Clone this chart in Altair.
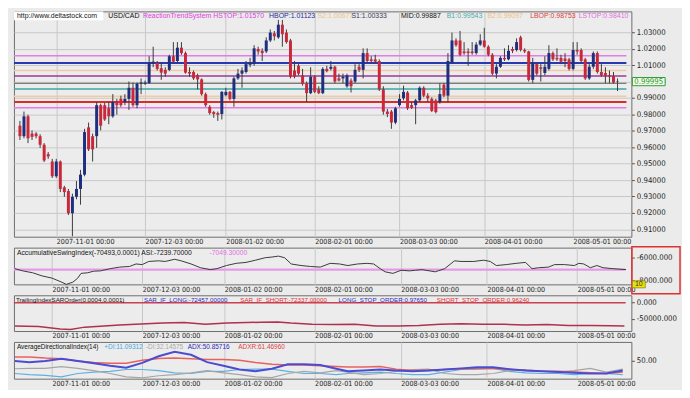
import json
import altair as alt
import pandas as pd

# ---------------- data ----------------
opens = [0.9731, 0.9667, 0.9788, 0.9683, 0.9683, 0.9667, 0.9615, 0.9558, 0.9513, 0.9423,
         0.9513, 0.9356, 0.9333, 0.9198, 0.9298, 0.9346, 0.9433, 0.9721, 0.9667, 0.9667,
         0.9856, 0.9856, 0.9837, 0.9788, 0.9875, 0.9894, 0.9875, 0.9894, 0.9962, 0.9856,
         0.9987, 0.9987, 0.9990, 1.0110, 1.0115, 1.0081, 1.0071, 1.0071, 1.0154, 1.0125,
         1.0206, 1.0173, 1.0058, 1.0058, 1.0038, 1.0013, 0.9923, 0.9846, 0.9814, 0.9808,
         0.9802, 0.9917, 0.9937, 0.9894, 1.0019, 1.0048, 1.0058, 1.0102, 1.0106, 1.0198,
         1.0187, 1.0183, 1.0250, 1.0294, 1.0269, 1.0346, 1.0298, 1.0250, 1.0067, 1.0096,
         1.0038, 0.9987, 0.9929, 1.0029, 0.9952, 0.9929, 1.0077, 1.0077, 1.0090, 1.0019,
         1.0019, 0.9971, 1.0006, 1.0000, 1.0090, 1.0071, 1.0173, 1.0135, 1.0135, 1.0125,
         0.9952, 0.9817, 0.9817, 0.9750, 0.9856, 0.9898, 0.9933, 0.9856, 0.9856, 0.9885,
         0.9962, 0.9914, 0.9894, 0.9885, 0.9875, 0.9981, 0.9914, 1.0115, 1.0250, 1.0250,
         1.0183, 1.0183, 1.0183, 1.0173, 1.0225, 1.0250, 1.0212, 1.0163, 1.0048, 1.0090,
         1.0144, 1.0135, 1.0198, 1.0192, 1.0269, 1.0192, 1.0183, 1.0010, 1.0106, 1.0087,
         1.0052, 1.0077, 1.0173, 1.0144, 1.0144, 1.0140, 1.0135, 1.0077, 1.0192, 1.0192,
         1.0135, 1.0019, 1.0090, 1.0173, 1.0058, 1.0052, 1.0038, 1.0033, 0.9997]
closes = [0.9667, 0.9788, 0.9654, 0.9663, 0.9667, 0.9615, 0.9519, 0.9544, 0.9423, 0.9513,
          0.9346, 0.9327, 0.9198, 0.9298, 0.9346, 0.9433, 0.9692, 0.9587, 0.9587, 0.9856,
          0.9731, 0.9769, 0.9788, 0.9875, 0.9856, 0.9856, 0.9894, 0.9962, 0.9856, 0.9987,
          0.9994, 0.9994, 1.0115, 1.0121, 1.0077, 1.0054, 1.0048, 1.0154, 1.0121, 1.0206,
          1.0173, 1.0054, 1.0048, 1.0019, 1.0013, 0.9923, 0.9856, 0.9808, 0.9802, 0.9798,
          0.9937, 0.9937, 0.9894, 1.0019, 1.0048, 1.0067, 1.0106, 1.0115, 1.0202, 1.0183,
          1.0173, 1.0250, 1.0298, 1.0275, 1.0346, 1.0288, 1.0240, 1.0029, 1.0029, 1.0048,
          0.9987, 0.9929, 1.0029, 0.9937, 0.9929, 1.0077, 1.0063, 1.0090, 1.0000, 1.0006,
          1.0029, 1.0038, 0.9971, 1.0071, 1.0071, 1.0173, 1.0125, 1.0125, 1.0121, 0.9952,
          0.9817, 0.9802, 0.9750, 0.9837, 0.9894, 0.9937, 0.9837, 0.9840, 0.9885, 0.9962,
          0.9914, 0.9898, 0.9821, 0.9814, 0.9923, 0.9914, 1.0125, 1.0250, 1.0221, 1.0163,
          1.0173, 1.0173, 1.0173, 1.0225, 1.0250, 1.0212, 1.0163, 1.0048, 1.0090, 1.0144,
          1.0135, 1.0187, 1.0187, 1.0240, 1.0192, 1.0183, 1.0010, 1.0115, 1.0048, 1.0077,
          1.0090, 1.0173, 1.0135, 1.0135, 1.0121, 1.0125, 1.0077, 1.0192, 1.0183, 1.0125,
          1.0019, 1.0090, 1.0173, 1.0058, 1.0038, 1.0033, 1.0029, 0.9994, 0.99995]
highs = [0.9760, 0.9817, 0.9798, 0.9702, 0.9692, 0.9679, 0.9625, 0.9571, 0.9529, 0.9529,
         0.9519, 0.9365, 0.9346, 0.9317, 0.9394, 0.9462, 0.9712, 0.9750, 0.9683, 0.9875,
         0.9865, 0.9871, 0.9875, 0.9923, 0.9894, 0.9914, 0.9923, 1.0000, 0.9994, 0.9994,
         1.0019, 1.0006, 1.0154, 1.0212, 1.0125, 1.0115, 1.0087, 1.0163, 1.0240, 1.0240,
         1.0240, 1.0183, 1.0087, 1.0067, 1.0048, 1.0019, 0.9933, 0.9856, 0.9821, 0.9817,
         0.9942, 0.9962, 0.9942, 1.0029, 1.0077, 1.0087, 1.0125, 1.0144, 1.0221, 1.0212,
         1.0202, 1.0269, 1.0317, 1.0308, 1.0375, 1.0375, 1.0317, 1.0260, 1.0125, 1.0106,
         1.0077, 1.0000, 1.0087, 1.0038, 0.9971, 1.0087, 1.0096, 1.0125, 1.0096, 1.0048,
         1.0048, 1.0048, 1.0019, 1.0106, 1.0106, 1.0202, 1.0202, 1.0154, 1.0163, 1.0135,
         0.9971, 0.9833, 0.9827, 0.9846, 0.9923, 0.9975, 0.9942, 0.9875, 0.9894, 0.9971,
         0.9971, 0.9929, 0.9904, 0.9894, 0.9990, 0.9990, 1.0173, 1.0298, 1.0263, 1.0308,
         1.0240, 1.0202, 1.0240, 1.0240, 1.0288, 1.0327, 1.0221, 1.0173, 1.0106, 1.0154,
         1.0202, 1.0221, 1.0212, 1.0263, 1.0279, 1.0202, 1.0187, 1.0144, 1.0115, 1.0106,
         1.0154, 1.0221, 1.0183, 1.0202, 1.0163, 1.0173, 1.0144, 1.0240, 1.0240, 1.0202,
         1.0144, 1.0106, 1.0183, 1.0183, 1.0106, 1.0087, 1.0067, 1.0058, 1.0019]
lows = [0.9644, 0.9654, 0.9625, 0.9644, 0.9654, 0.9596, 0.9510, 0.9529, 0.9413, 0.9413,
        0.9327, 0.9298, 0.9187, 0.9058, 0.9283, 0.9250, 0.9423, 0.9577, 0.9513, 0.9596,
        0.9702, 0.9760, 0.9740, 0.9779, 0.9798, 0.9846, 0.9856, 0.9827, 0.9846, 0.9837,
        0.9923, 0.9979, 0.9987, 1.0087, 1.0067, 1.0010, 1.0029, 1.0063, 1.0110, 1.0115,
        1.0163, 1.0048, 1.0029, 1.0010, 0.9952, 0.9914, 0.9846, 0.9798, 0.9779, 0.9760,
        0.9769, 0.9910, 0.9885, 0.9846, 1.0010, 0.9962, 1.0048, 1.0087, 1.0096, 1.0163,
        1.0125, 1.0173, 1.0240, 1.0250, 1.0260, 1.0212, 1.0231, 1.0019, 1.0019, 1.0038,
        0.9975, 0.9875, 0.9923, 0.9929, 0.9923, 0.9923, 1.0056, 1.0067, 0.9990, 1.0000,
        0.9990, 0.9962, 0.9933, 0.9990, 1.0058, 1.0019, 1.0115, 1.0115, 1.0110, 0.9942,
        0.9798, 0.9783, 0.9712, 0.9740, 0.9846, 0.9885, 0.9827, 0.9833, 0.9740, 0.9875,
        0.9904, 0.9875, 0.9814, 0.9806, 0.9865, 0.9904, 0.9875, 1.0106, 1.0212, 1.0154,
        1.0163, 1.0096, 1.0163, 1.0163, 1.0217, 1.0206, 1.0154, 1.0038, 1.0019, 1.0083,
        1.0125, 1.0129, 1.0173, 1.0183, 1.0183, 1.0173, 1.0000, 0.9990, 1.0038, 1.0000,
        1.0038, 1.0067, 1.0125, 1.0125, 1.0106, 1.0087, 1.0067, 1.0067, 1.0163, 1.0115,
        1.0010, 1.0010, 1.0077, 1.0048, 1.0029, 0.9990, 0.9990, 0.9987, 0.9942]

date_label_bars = [9, 31, 51, 73, 94, 115, 137]
date_labels = ["2007-11-01 00:00", "2007-12-03 00:00", "2008-01-02 00:00", "2008-02-01 00:00",
               "2008-03-03 00:00", "2008-04-01 00:00", "2008-05-01 00:00"]
price_ticks = [0.91, 0.92, 0.93, 0.94, 0.95, 0.96, 0.97, 0.98, 0.99, 1.00, 1.01, 1.02, 1.03]

level_names = ["HSTOP", "HBOP", "S2", "S1", "MID", "B1", "B2", "LBOP", "LSTOP"]
level_values = [1.01570, 1.01123, 1.00677, 1.00333, 0.99887, 0.99543, 0.99097, 0.98753, 0.98410]

asi_bar = [0, 1.9, 4.3, 6.6, 9.0, 11.4, 12.5, 14.1, 15.3, 16.1, 17.7, 19.2, 20.8, 23.2, 25.5,
           27.9, 29.5, 31.0, 32.6, 35.0, 36.6, 38.9, 40.5, 42.9, 45.2, 47.6, 49.2, 51.5, 53.9,
           56.3, 58.6, 61.0, 62.6, 64.2, 65.7, 67.3, 69.7, 72.0, 74.4, 76.8, 79.1, 81.1,
           83.5, 85.8, 87.4, 89.0, 90.2, 92.1, 94.1, 96.1, 97.6, 99.2, 102.4, 104.7, 107.1,
           108.7, 111.8, 114.2, 115.8, 117.3, 119.7, 122.1, 124.4, 126.0, 127.6, 130.0, 131.5,
           133.9, 136.3, 137.4, 138.6, 140.2, 141.8, 143.3, 145.7, 148.9]
asi_val = [-6969, -7156, -7316, -7582, -7769, -8116, -8302, -8116, -7769, -7369, -7316, -7182,
           -7156, -6969, -6836, -6782, -6569, -6622, -6356, -6302, -6356, -6169, -6302, -6569,
           -6889, -7049, -6969, -6702, -6516, -6436, -6249, -6036, -5982, -5902, -6036, -6569,
           -6702, -6782, -6836, -6516, -6569, -6702,
           -6569, -6516, -6569, -6969, -7236, -7369, -7102, -7156, -7102, -7049, -7236, -6969,
           -6302, -6356, -6356, -6249, -6356, -6702, -6622, -6516, -6436, -6969, -6889, -6836,
           -6622, -6622, -6702, -6516, -6569, -6889, -6702, -6889, -6969, -7049]
asi_signal = [-7049.3]

ti_bar = [0, 5.8, 11.0, 13.5, 17.0, 25.5, 35.9, 41.2, 46.4, 51.6, 59.9, 64.0, 67.2, 72.4, 77.6,
          82.8, 88.0, 93.2, 98.4, 103.6, 108.8, 114.0, 119.2, 124.4, 129.6, 134.8, 140.0,
          145.2, 148.5]
ti_val = [-72400, -74200, -81400, -83100, -76000, -69700, -63500, -61700, -67100, -63500,
          -60800, -59900, -63500, -67100, -67900, -67100, -72400, -72400, -70600, -67100,
          -65300, -67100, -67100, -69700, -67900, -70600, -70600, -71500, -72400]
stop_orders = [0.97650, 0.96240]

adx_bar = [0, 3.5, 7.4, 11.3, 15.3, 19.2, 23.2, 27.1, 31.0, 35.0, 38.9, 42.9, 46.8, 50.8,
           54.7, 58.6, 62.6, 66.5, 70.4, 74.4, 78.3, 81.1, 85.0, 89.0, 92.9, 96.9, 100.8,
           104.7, 108.7, 112.6, 116.5, 120.5, 124.4, 128.4, 132.3, 136.2, 140.2, 144.1, 148.1]
adxr_val = [59, 59, 56, 54, 48, 44, 42, 42, 50, 55, 56, 54, 52, 52, 50, 44, 39, 37, 37, 35, 33,
            32, 32, 33, 26, 22, 22, 25, 26, 28, 28, 25, 22, 20, 20, 18, 16, 14, 18]
adx_val = [48, 45, 48, 54, 48, 42, 35, 30, 43, 61, 73, 65, 45, 35, 25, 20, 27, 39, 39, 37, 27,
           20, 22, 25, 22, 20, 22, 25, 28, 31, 31, 26, 22, 20, 18, 16, 14, 14, 22]
mdi_val = [27, 28, 28, 33, 28, 22, 14, 5, 2, 8, 11, 16, 22, 16, 11, 5, 3, 14, 20, 16, 22,
           18, 11, 14, 20, 25, 26, 14, 11, 11, 14, 22, 25, 20, 18, 22, 28, 18, 26]
pdi_val = [14, 11, 9, 5, 14, 18, 20, 25, 25, 22, 16, 14, 20, 20, 25, 26, 26, 20, 14, 14, 11,
           14, 16, 18, 14, 11, 11, 18, 25, 26, 28, 20, 16, 14, 14, 11, 14, 14, 11]

# ---------------- styling ----------------
W = 622
H_MAIN, H_ASI, H_TI, H_ADX = 227, 37, 36, 37
XDOM = [-0.25, 150.2]
NARROW = "Liberation Sans Narrow, Arial Narrow, DejaVu Sans Condensed, sans-serif"
HEAD = "Liberation Sans, Arial, sans-serif"
GRID = "#c8c8c8"
BG = "#ebebeb"
BULL = "#1f2f7f"
BEAR = "#c9283a"
level_colors = ["#e27de6", "#2b38b0", "#f2caa0", "#9b3a9c", "#7c7c7c", "#3aa8a5", "#f2caa0", "#e02a2a", "#e27de6"]
level_widths = [1.5, 2, 1.5, 1.5, 1.5, 1.5, 1.5, 2, 1.5]

label_expr = f"{json.dumps(date_labels)}[indexof({json.dumps(date_label_bars)}, datum.value)]"

x_axis = alt.Axis(values=date_label_bars, labelExpr=label_expr, grid=True, gridColor=GRID,
                  ticks=False, domain=False, labelAlign="left", labelBaseline="top",
                  labelPadding=1, labelFont=NARROW, labelFontSize=7.2, labelColor="#222",
                  labelFlush=False, labelOverlap=False, title=None)
x_scale = alt.Scale(domain=XDOM, nice=False, zero=False)


def xenc(field="i"):
    return alt.X(f"{field}:Q", scale=x_scale, axis=x_axis)


def yaxis(values, fmt, grid):
    return alt.Axis(orient="right", values=values,
                    labelExpr=f"replace(format(datum.value, '{fmt}'), '\u2212', '-')",
                    grid=grid, gridColor=GRID, domain=False, tickSize=3, tickColor="#555",
                    labelPadding=2, labelFont=NARROW, labelFontSize=7.8, labelColor="#222",
                    title=None)


def txt(text, color, x, y=5, size=7, font=HEAD, align="left"):
    return alt.Chart(pd.DataFrame({"t": [text]})).mark_text(
        align=align, baseline="middle", color=color, font=font, fontSize=size
    ).encode(x=alt.value(x), y=alt.value(y), text="t:N")


def box(x, x2, y, y2, **kw):
    return alt.Chart(pd.DataFrame({"a": [0]})).mark_rect(**kw).encode(
        x=alt.value(x), x2=alt.value(x2), y=alt.value(y), y2=alt.value(y2))


# ---------------- main panel ----------------
y_main_scale = alt.Scale(domain=[0.9055, 1.0427], nice=False, zero=False)
y_main_axis = yaxis(price_ticks, ".5f", True)

df = pd.DataFrame({"i": list(range(len(opens))), "o": opens, "h": highs, "l": lows, "c": closes})

level_layers = []
for v, col, w in zip(level_values, level_colors, level_widths):
    level_layers.append(
        alt.Chart(pd.DataFrame({"v": [v]})).mark_rule(color=col, strokeWidth=w).encode(
            y=alt.Y("v:Q", scale=y_main_scale, axis=y_main_axis),
            x=alt.value(0), x2=alt.value(W - 5)))

wick = alt.Chart(df).mark_rule(color="#3c3c3c", strokeWidth=1).encode(
    x=xenc(), y=alt.Y("l:Q", scale=y_main_scale, axis=y_main_axis), y2="h:Q")
body = alt.Chart(df).transform_calculate(
    dir="datum.c >= datum.o ? 'up' : 'down'"
).mark_bar(size=3).encode(
    x=xenc(), y=alt.Y("o:Q", scale=y_main_scale, axis=y_main_axis), y2="c:Q",
    color=alt.Color("dir:N", scale=alt.Scale(domain=["up", "down"], range=[BULL, BEAR]), legend=None))

lv = dict(zip(level_names, level_values))
header = [
    box(0, 90, 0, 9, fill="white"),
    txt("http://www.deltastock.com", "#111111", 3),
    txt("USD/CAD", "#111111", 95),
    txt(f"ReactionTrendSystem HSTOP:{lv['HSTOP']:.5f}", "#e040e0", 130),
    txt(f"HBOP:{lv['HBOP']:.5f}", "#1c2a9a", 257),
    txt(f"S2:{lv['S2']:.5f}", "#efc28a", 306),
    txt(f"S1:{lv['S1']:.5f}", "#3a3a5a", 340),
    txt(f"MID:{lv['MID']:.5f}", "#111111", 390),
    txt(f"B1:{lv['B1']:.5f}", "#48adad", 436),
    txt(f"B2:{lv['B2']:.5f}", "#efc080", 477),
    txt(f"LBOP:{lv['LBOP']:.5f}", "#e03a3a", 520),
    txt(f"LSTOP:{lv['LSTOP']:.5f}", "#e070e0", 569),
]

price_df = pd.DataFrame({"p": [closes[-1]]})
price_rect = alt.Chart(price_df).transform_calculate(
    top="datum.p + 0.0025", bot="datum.p - 0.0025"
).mark_rect(fill="#f2faee", stroke="#2e9e2e", strokeWidth=1).encode(
    x=alt.value(W + 1), x2=alt.value(W + 34),
    y=alt.Y("top:Q", scale=y_main_scale, axis=y_main_axis), y2="bot:Q")
price_text = alt.Chart(price_df).mark_text(
    align="left", baseline="middle", color="#2a962a", font=NARROW, fontSize=7.8
).encode(x=alt.value(W + 3), y=alt.Y("p:Q", scale=y_main_scale, axis=y_main_axis),
         text=alt.Text("p:Q", format=".5f"))

main = alt.layer(*level_layers, wick, body, *header, price_rect, price_text).properties(
    width=W, height=H_MAIN)

# ---------------- ASI panel ----------------
y_asi_scale = alt.Scale(domain=[-8302, -5182], nice=False, zero=False)
y_asi_axis = yaxis([-6000, -8000], ".3f", False)
asi_df = pd.DataFrame({"i": asi_bar, "v": asi_val})
asi_sig = alt.Chart(pd.DataFrame({"v": asi_signal})).mark_rule(color="#e69ae6", strokeWidth=2.5).encode(
    y=alt.Y("v:Q", scale=y_asi_scale, axis=y_asi_axis), x=alt.value(0), x2=alt.value(W - 6))
asi_line = alt.Chart(asi_df).mark_line(color="#3a3a3a", strokeWidth=1).encode(
    x=xenc(), y=alt.Y("v:Q", scale=y_asi_scale, axis=y_asi_axis))
asi = alt.layer(
    asi_sig, asi_line,
    txt("AccumulativeSwingIndex(-70493,0.0001) ASI:-7239.70000", "#111111", 3, size=6.8),
    txt(f"{asi_signal[0]:.5f}", "#e070e0", 197, size=6.8),
    box(W + 0.5, W + 49, -1, H_ASI + 9.5, fillOpacity=0, stroke="#e03030", strokeWidth=1.5),
    box(W + 1, W + 14, H_ASI - 3.5, H_ASI + 3.5, fill="#ece000", stroke="#8a8a20", strokeWidth=0.8),
    txt("10", "#333333", W + 7.5, y=H_ASI, size=7, align="center"),
).properties(width=W, height=H_ASI)

# ---------------- Trailing index panel ----------------
y_ti_scale = alt.Scale(domain=[-88000, 22500], nice=False, zero=False)
y_ti_axis = yaxis([0, -50000], ".3f", False)
ti_df = pd.DataFrame({"i": ti_bar, "v": ti_val})
stop_layers = [
    alt.Chart(pd.DataFrame({"v": [v]})).mark_rule(color=c, strokeWidth=1.2).encode(
        y=alt.Y("v:Q", scale=y_ti_scale, axis=y_ti_axis), x=alt.value(0), x2=alt.value(W - 6))
    for v, c in zip(stop_orders, ["#2a2ac0", "#e03a3a"])
]
ti_line = alt.Chart(ti_df).mark_line(color="#b0304e", strokeWidth=1.5).encode(
    x=xenc(), y=alt.Y("v:Q", scale=y_ti_scale, axis=y_ti_axis))
ti = alt.layer(
    *stop_layers, ti_line,
    txt("TrailingIndexSAROrder(0.0004,0.0001)", "#111111", 2, size=6.3),
    txt("SAR_IF_LONG:-72457.00000", "#2a2ac0", 131, size=6.3),
    txt("SAR_IF_SHORT:-72337.00000", "#e03030", 228, size=6.3),
    txt(f"LONG_STOP_ORDER:{stop_orders[0]:.5f}", "#2a2ac0", 327, size=6.3),
    txt(f"SHORT_STOP_ORDER:{stop_orders[1]:.5f}", "#e03030", 426, size=6.3),
).properties(width=W, height=H_TI)

# ---------------- ADX panel ----------------
y_adx_scale = alt.Scale(domain=[0, 100], nice=False, zero=False)
y_adx_axis = yaxis([50], ".2f", False)


def adx_line(vals, color, width):
    return alt.Chart(pd.DataFrame({"i": adx_bar, "v": vals})).mark_line(
        color=color, strokeWidth=width).encode(
        x=xenc(), y=alt.Y("v:Q", scale=y_adx_scale, axis=y_adx_axis))


adxp = alt.layer(
    adx_line(pdi_val, "#5fb0e2", 1.2),
    adx_line(mdi_val, "#a6a6a6", 1.2),
    adx_line(adxr_val, "#e8625c", 1.5),
    adx_line(adx_val, "#4c4cd2", 2),
    txt("AverageDirectionalIndex(14)", "#111111", 3, size=6.5),
    txt("+DI:11.09312", "#40a8e0", 91, size=6.5),
    txt("-DI:32.14575", "#a8a8a8", 133, size=6.5),
    txt("ADX:50.85716", "#2a2ac0", 175, size=6.5),
    txt("ADXR:61.46960", "#e04040", 226, size=6.5),
).properties(width=W, height=H_ADX)

chart = alt.vconcat(main, asi, ti, adxp, spacing=11, bounds="flush").properties(
    padding={"left": 2, "top": 1, "right": 0, "bottom": 1}
).configure(background=BG).configure_view(fill="#ececec", stroke="#6e6e6e", strokeWidth=1)

chart.save("out.html", embed_options={"renderer": "svg", "actions": False})
